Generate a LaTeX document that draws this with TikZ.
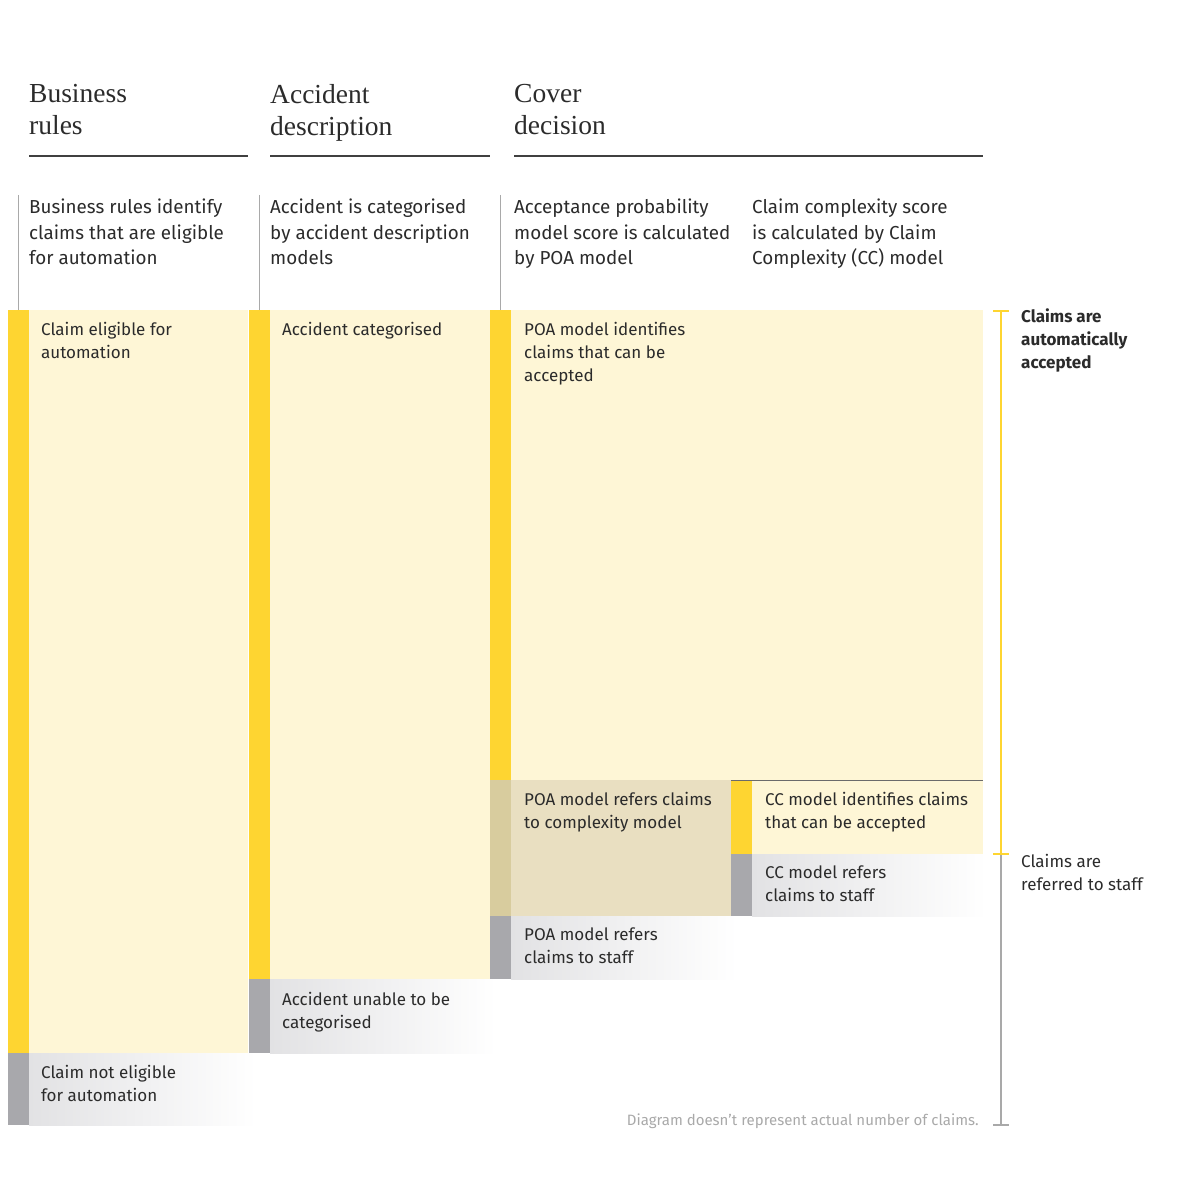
\documentclass[tikz,border=0pt]{standalone}
\usepackage{fontspec}
\setmainfont{Fira Sans}
\newfontfamily\titlefont{Liberation Serif}
\begin{document}
\definecolor{ink}{HTML}{2B2B2B}
\definecolor{yelbar}{HTML}{FED531}
\definecolor{yelfill}{HTML}{FEF6D6}
\definecolor{greybar}{HTML}{A8A8AC}
\definecolor{greyfill}{HTML}{E2E2E4}
\definecolor{tanbar}{HTML}{D8CC9E}
\definecolor{tanfill}{HTML}{E9DFC1}
\definecolor{rulegrey}{HTML}{A9A9A9}
\begin{tikzpicture}[x=1pt,y=-1pt,
  title/.style={anchor=north west,inner sep=0pt,align=left,text=ink,
    font=\titlefont\fontsize{27.5}{32}\selectfont},
  desc/.style={anchor=north west,inner sep=0pt,align=left,text=ink,
    font=\fontsize{18.8}{25.5}\selectfont},
  boxtext/.style={anchor=north west,inner sep=0pt,align=left,text=ink,
    font=\fontsize{17}{23}\selectfont},
  headrule/.style={draw=ink!90,line width=2pt},
  colline/.style={draw=rulegrey,line width=0.8pt},
  okbar/.style={fill=yelbar},
  okfill/.style={fill=yelfill},
  nobar/.style={fill=greybar},
  nofill/.style={left color=greyfill,right color=white,shading angle=90},
]
\useasboundingbox (0,0) rectangle (1194,1182);

% column headings
\node[title] (h1) at (29,84) {Business\\rules};
\node[title] (h2) at (270,84) {Accident\\description};
\node[title] (h3) at (514,84) {Cover\\decision};
\draw[headrule] (29,156) -- (248,156);
\draw[headrule] (270,156) -- (490,156);
\draw[headrule] (514,156) -- (983,156);

% column separators
\draw[colline] (18,195) -- (18,310);
\draw[colline] (259,195) -- (259,310);
\draw[colline] (500,195) -- (500,310);

% stage descriptions
\node[desc] (d1) at (29,199) {Business rules identify\\claims that are eligible\\for automation};
\node[desc] (d2) at (270,199) {Accident is categorised\\by accident description\\models};
\node[desc] (d3) at (514,199) {Acceptance probability\\model score is calculated\\by POA model};
\node[desc] (d4) at (752,199) {Claim complexity score\\is calculated by Claim\\Complexity (CC) model};

% business rules column
\fill[okfill] (29,310) rectangle (248,1053);
\fill[okbar] (8,310) rectangle (29,1053);
\shade[nofill] (29,1053) rectangle (256,1125);
\fill[nobar] (8,1053) rectangle (29,1125);

% accident description column
\fill[okfill] (270,310) rectangle (490,979);
\fill[okbar] (249,310) rectangle (270,979);
\shade[nofill] (270,979) rectangle (496,1053);
\fill[nobar] (249,979) rectangle (270,1053);

% cover decision: POA model
\fill[okfill] (511,310) rectangle (983,780);
\fill[okbar] (490,310) rectangle (511,780);
\fill[tanfill] (511,780) rectangle (731,916);
\fill[tanbar] (490,780) rectangle (511,916);
\shade[nofill] (511,916) rectangle (737,979);
\fill[nobar] (490,916) rectangle (511,979);

% cover decision: CC model
\fill[okfill] (752,780) rectangle (983,854);
\fill[okbar] (731,780) rectangle (752,854);
\shade[nofill] (752,854) rectangle (987,916);
\fill[nobar] (731,854) rectangle (752,916);
\draw[draw=ink!70,line width=0.8pt] (731,780) -- (983,780);

% outcome labels
\node[boxtext] (b1) at (41,322) {Claim eligible for\\automation};
\node[boxtext] (b2) at (41,1065) {Claim not eligible\\for automation};
\node[boxtext] (b3) at (282,322) {Accident categorised};
\node[boxtext] (b4) at (282,992) {Accident unable to be\\categorised};
\node[boxtext] (b5) at (524,322) {POA model identifies\\claims that can be\\accepted};
\node[boxtext] (b6) at (524,792) {POA model refers claims\\to complexity model};
\node[boxtext] (b7) at (524,928) {POA model refers\\claims to staff};
\node[boxtext] (b8) at (765,792) {CC model identifies claims\\that can be accepted};
\node[boxtext] (b9) at (765,866) {CC model refers\\claims to staff};

% outcome bracket
\coordinate (brtop) at (1001,311);
\coordinate (brmid) at (1001,854);
\coordinate (brbot) at (1001,1125);
\draw[yelbar,line width=1.6pt] (brtop) -- (brmid);
\draw[yelbar,line width=1.6pt] ([xshift=-8pt]brtop) -- ([xshift=8pt]brtop);
\draw[rulegrey,line width=1.6pt] (brmid) -- (brbot);
\draw[rulegrey,line width=1.6pt] ([xshift=-8pt]brbot) -- ([xshift=8pt]brbot);
\draw[yelbar,line width=1.6pt] ([xshift=-8pt]brmid) -- ([xshift=8pt]brmid);
\node[boxtext,font=\bfseries\fontsize{17}{23}\selectfont] (acc) at (1021,309) {Claims are\\automatically\\accepted};
\node[boxtext] (ref) at (1021,854) {Claims are\\referred to staff};

% footnote
\node[anchor=base east,inner sep=0pt,text=rulegrey,font=\fontsize{15}{18}\selectfont] (note) at (979,1125) {Diagram doesn’t represent actual number of claims.};
\end{tikzpicture}
\end{document}
